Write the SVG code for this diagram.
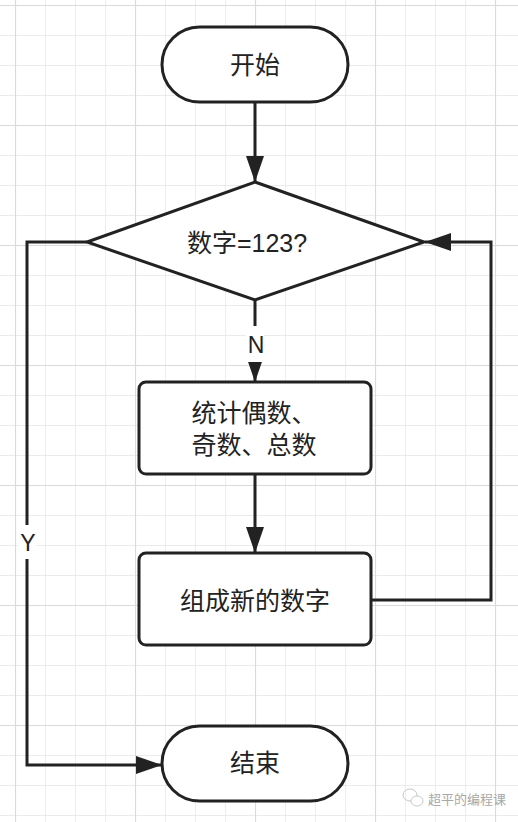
<svg xmlns="http://www.w3.org/2000/svg" width="518" height="822" viewBox="0 0 518 822">
<defs>
<style>
.minor{stroke:#e5e5e5;stroke-width:1.3;fill:none}
.major{stroke:#dadada;stroke-width:2.2;fill:none}
.shape{fill:#ffffff;stroke:#222222;stroke-width:3}
.edge{fill:none;stroke:#222222;stroke-width:3}
.t{font-family:"Liberation Sans","Noto Sans CJK SC",sans-serif;font-size:25px;fill:#222222;text-anchor:middle;dominant-baseline:central}
.lbl{font-family:"Liberation Sans","Noto Sans CJK SC",sans-serif;font-size:23px;fill:#222222;text-anchor:middle;dominant-baseline:central}
.wm{font-family:"Noto Sans CJK SC",sans-serif;font-size:13px;fill:#a8a8a8;dominant-baseline:central}
</style>
<marker id="arr" viewBox="0 0 26 18" refX="26" refY="9" markerWidth="26" markerHeight="18" markerUnits="userSpaceOnUse" orient="auto">
<path d="M0,0 L26,9 L0,18 Z" fill="#222222"/>
</marker>
<pattern id="gminor" width="30" height="30" patternUnits="userSpaceOnUse" x="15" y="5">
<path d="M0,0 V30 M0,0 H30" class="minor"/>
</pattern>
<pattern id="gmajor" width="120" height="120" patternUnits="userSpaceOnUse" x="15" y="5">
<path d="M0,0 V120 M0,0 H120" class="major"/>
</pattern>
</defs>
<rect width="518" height="822" fill="#ffffff"/>
<rect width="518" height="822" fill="url(#gminor)"/>
<rect width="518" height="822" fill="url(#gmajor)"/>

<g id="connectors">
<path class="edge" d="M255,102 V182" marker-end="url(#arr)"/>
<path class="edge" d="M255,300 V382" marker-end="url(#arr)"/>
<path class="edge" d="M255,474 V553" marker-end="url(#arr)"/>
<path class="edge" d="M371,600 H491 V242 H425" marker-end="url(#arr)"/>
<path class="edge" d="M87,242 H27 V765 H162" marker-end="url(#arr)"/>
<rect x="246" y="326" width="18" height="36" fill="#ffffff"/>
<text class="lbl" x="256" y="345">N</text>
<rect x="18" y="525" width="18" height="34" fill="#ffffff"/>
<text class="lbl" x="28" y="543">Y</text>
</g>

<g id="start">
<rect class="shape" x="162" y="27" width="186" height="75" rx="37.5" ry="37.5"/>
<text class="t" x="255" y="65">开始</text>
</g>

<g id="decision">
<path class="shape" d="M255,182 L424,242 L255,300 L87,242 Z"/>
<text class="t" x="247" y="243">数字=123?</text>
</g>

<g id="count">
<rect class="shape" x="139" y="382" width="232" height="92" rx="7" ry="7"/>
<text class="t" x="254" y="413">统计偶数、</text>
<text class="t" x="254" y="445">奇数、总数</text>
</g>

<g id="compose">
<rect class="shape" x="139" y="553" width="232" height="92" rx="7" ry="7"/>
<text class="t" x="255" y="601">组成新的数字</text>
</g>

<g id="end">
<rect class="shape" x="162" y="726" width="186" height="75" rx="37.5" ry="37.5"/>
<text class="t" x="255" y="763">结束</text>
</g>

<g id="watermark">
<ellipse cx="410" cy="795" rx="7" ry="6" fill="none" stroke="#c8c8c8" stroke-width="1"/>
<ellipse cx="417" cy="801" rx="6" ry="5" fill="#ffffff" stroke="#c8c8c8" stroke-width="1"/>
<text class="wm" x="428" y="798">超平的编程课</text>
</g>
</svg>
